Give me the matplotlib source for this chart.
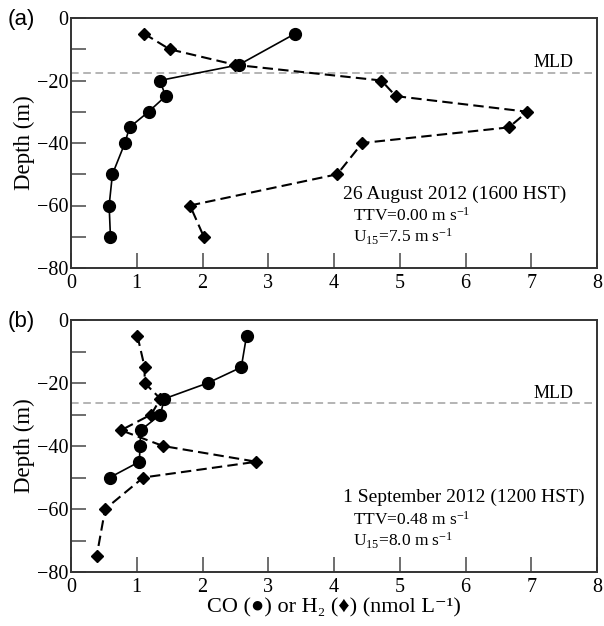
import matplotlib
matplotlib.use("Agg")
import matplotlib.pyplot as plt
from matplotlib.ticker import MultipleLocator

plt.rcParams['font.family'] = ['Liberation Serif', 'DejaVu Sans']
plt.rcParams['mathtext.fontset'] = 'custom'
plt.rcParams['mathtext.rm'] = 'Liberation Serif'
plt.rcParams['mathtext.it'] = 'Liberation Serif:italic'
plt.rcParams['mathtext.bf'] = 'Liberation Serif:bold'

# Panel (a): 26 August 2012
a_co_depth = [-5, -15, -20, -25, -30, -35, -40, -50, -60, -70]
a_co = [3.41, 2.55, 1.35, 1.44, 1.18, 0.89, 0.82, 0.63, 0.58, 0.60]
a_h2_depth = [-5, -10, -15, -20, -25, -30, -35, -40, -50, -60, -70]
a_h2 = [1.11, 1.50, 2.50, 4.72, 4.94, 6.94, 6.66, 4.43, 4.05, 1.81, 2.02]
a_mld = -17.7

# Panel (b): 1 September 2012
b_co_depth = [-5, -15, -20, -25, -30, -35, -40, -45, -50]
b_co = [2.67, 2.59, 2.08, 1.42, 1.36, 1.06, 1.05, 1.04, 0.59]
b_h2_depth = [-5, -15, -20, -25, -30, -35, -40, -45, -50, -60, -75]
b_h2 = [1.01, 1.12, 1.12, 1.36, 1.22, 0.76, 1.40, 2.82, 1.10, 0.52, 0.39]
b_mld = -26.5

panels = [
    dict(label='(a)', co_d=a_co_depth, co=a_co, h2_d=a_h2_depth, h2=a_h2, mld=a_mld,
         title='26 August 2012 (1600 HST)', ttv='0.00', u15='7.5'),
    dict(label='(b)', co_d=b_co_depth, co=b_co, h2_d=b_h2_depth, h2=b_h2, mld=b_mld,
         title='1 September 2012 (1200 HST)', ttv='0.48', u15='8.0'),
]

fig = plt.figure(figsize=(6.04, 6.26), dpi=100)
L, R = 71/604, 597/604
boxes = [(18, 268), (320, 572)]
spine_col = '#333333'
for p, (t, b) in zip(panels, boxes):
    ax = fig.add_axes([L, 1 - b/626, R - L, (b - t)/626])
    ax.axhline(p['mld'], color='#a0a0a0', lw=1.1, dashes=(5, 3), zorder=1)
    ax.text(7.03, p['mld'] + 0.6, 'MLD', fontsize=13, ha='left', va='bottom')
    ax.plot(p['h2'], p['h2_d'], color='black', lw=1.5, dashes=(5, 2.5),
            marker='D', markersize=6.5, zorder=3)
    ax.plot(p['co'], p['co_d'], color='black', lw=1.2, marker='o',
            markersize=8.5, zorder=4)
    ax.set_xlim(0, 8)
    ax.set_ylim(-80, 0)
    ax.xaxis.set_major_locator(MultipleLocator(1))
    ax.yaxis.set_major_locator(MultipleLocator(20))
    ax.yaxis.set_minor_locator(MultipleLocator(10))
    ax.tick_params(which='both', direction='in', length=11, width=1.2,
                   color='#555555', top=False, right=False, labelsize=14.5)
    ax.tick_params(axis='x', pad=4)
    ax.tick_params(axis='y', pad=2)
    for s in ax.spines.values():
        s.set_color(spine_col)
        s.set_linewidth(1.4)
    ax.set_ylabel('Depth (m)', fontsize=16.5, labelpad=1)
    ax.text(4.13, -56.3, p['title'], fontsize=14, ha='left', va='center')
    ax.text(4.29, -63.4, r'TTV=' + p['ttv'] + r' m s$^{-1}$', fontsize=12.5,
            ha='left', va='center')
    ax.text(4.29, -70.0, r'U$_{15}$=' + p['u15'] + r' m s$^{-1}$', fontsize=12.5,
            ha='left', va='center')
    fig.text(8/604, 1 - (t + 2)/626, p['label'], fontsize=16,
             family=['Liberation Sans', 'DejaVu Sans'], ha='left', va='center')
    last = ax

last.set_xlabel('CO (\u25CF) or H\u2082 (\u2666) (nmol L\u207B\u00B9)', fontsize=16, labelpad=1)
fig.savefig('out.png', dpi=100)
